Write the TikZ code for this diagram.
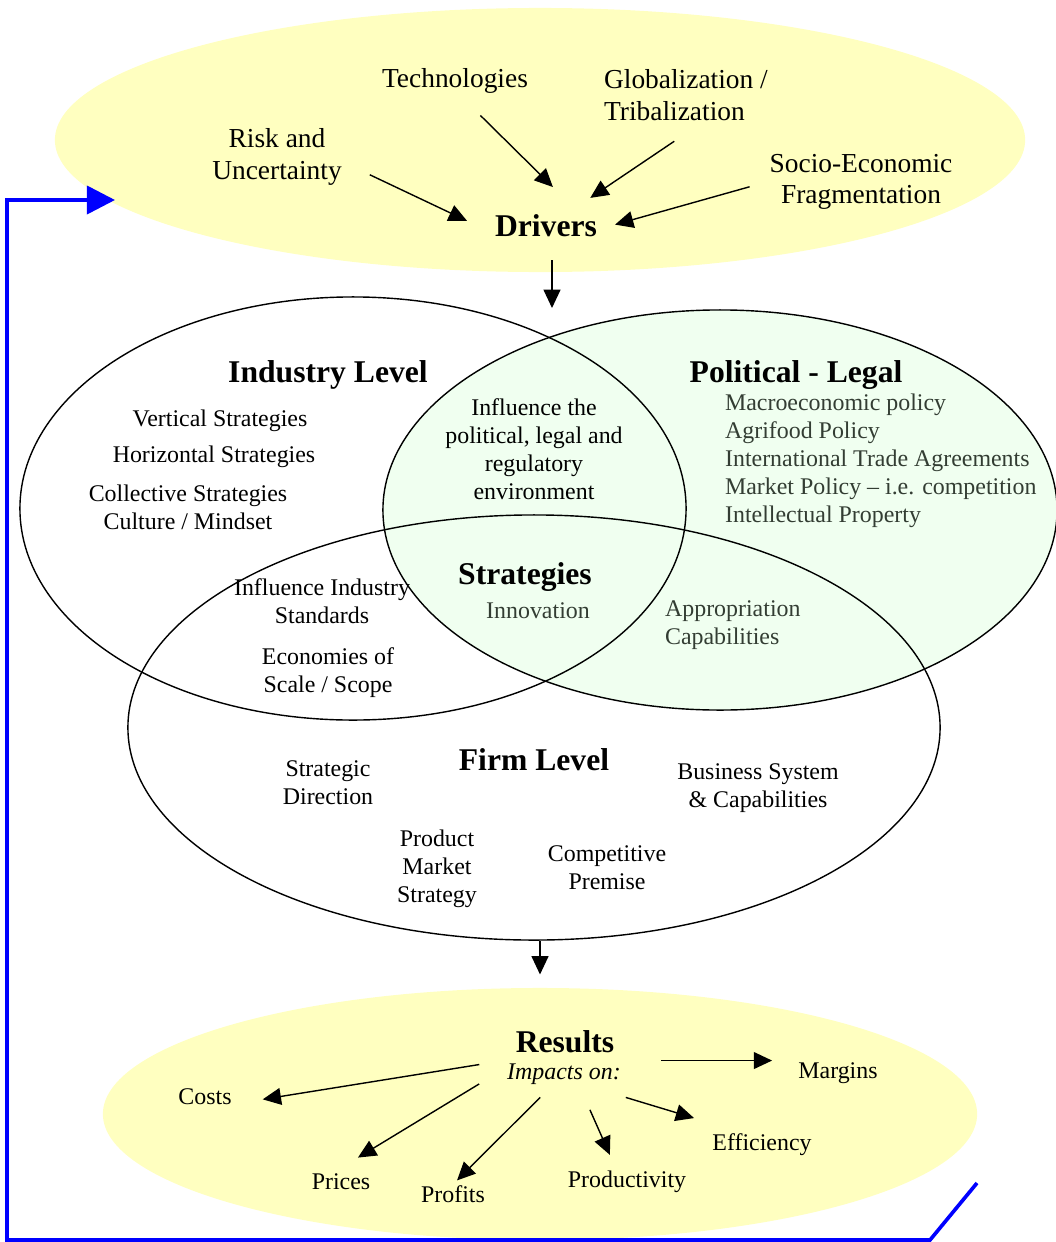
\documentclass[tikz,border=0pt]{standalone}
\usepackage{fontspec}
\setmainfont{Liberation Serif}
\usepackage{xcolor}
\usepackage{tikz}
\usetikzlibrary{positioning,shapes.geometric,arrows.meta}

\definecolor{zoneyellow}{HTML}{FFFFC0}
\definecolor{zonegreen}{HTML}{F0FFF0}
\definecolor{polgray}{HTML}{333D33}

\begin{document}
\begin{tikzpicture}[
    x=0.025cm, y=-0.025cm,
    zone/.style={ellipse, inner sep=0pt},
    lbl/.style={align=center, inner sep=2pt, font=\fontsize{17}{20}\selectfont},
    toplbl/.style={lbl, font=\fontsize{19.5}{22.5}\selectfont},
    head/.style={lbl, font=\fontsize{22.5}{26}\selectfont\bfseries},
    soft/.style={text=polgray},
    arr/.style={-{Triangle[length=13pt, width=12pt]}, line width=1pt},
    feedback/.style={draw=blue, line width=2.6pt, -{Triangle[length=20pt, width=20pt]}}
  ]
    \useasboundingbox (0,0) rectangle (1055,1242);

    % Zones
    \node[zone, fill=zoneyellow, minimum width=24.25cm, minimum height=6.6cm] (drivzone) at (540,140) {};
    \node[zone, fill=zoneyellow, minimum width=21.85cm, minimum height=6.3cm] (resultzone) at (540,1114) {};
    \node[zone, draw, fill=zonegreen, line width=1pt, minimum width=16.85cm, minimum height=10cm] (political) at (720,510) {};
    \node[zone, draw, line width=1pt, minimum width=16.65cm, minimum height=10.575cm] (industry) at (353,508.5) {};
    \node[zone, draw, line width=1pt, minimum width=20.3cm, minimum height=10.625cm] (firm) at (534,727.5) {};

    % Drivers
    \node[toplbl] (tech) at (455,81) {Technologies};
    \node[toplbl, align=left, anchor=west] (glob) at (601,95) {Globalization /\\Tribalization};
    \node[toplbl] (risk) at (277,157) {Risk and\\Uncertainty};
    \node[toplbl] (socio) at (861,182) {Socio-Economic\\Fragmentation};
    \node[head] (drivers) at (546,226) {Drivers};

    % Industry level
    \node[head] (indlevel) at (328,375) {Industry Level};
    \node[lbl] (vertical) at (220,421) {Vertical Strategies};
    \node[lbl] (horizontal) at (214,457) {Horizontal Strategies};
    \node[lbl] (collective) at (188,507) {Collective Strategies\\Culture / Mindset};
    \node[lbl] (influence) at (534,449) {Influence the\\political, legal and\\regulatory\\environment};

    % Political - legal
    \node[head] (pollevel) at (796,375) {Political - Legal};
    \node[lbl, soft, align=left, anchor=west] (pollist) at (722,461) {Macroeconomic policy\\Agrifood Policy\\International Trade Agreements\\Market Policy -- i.e. competition\\Intellectual Property};

    % Strategies
    \node[head] (strategies) at (525,577) {Strategies};
    \node[lbl, soft] (innovation) at (538,611) {Innovation};
    \node[lbl, soft, align=left, anchor=west] (approp) at (662,625) {Appropriation\\Capabilities};
    \node[lbl] (standards) at (322,601) {Influence Industry\\Standards};
    \node[lbl] (economies) at (328,673) {Economies of\\Scale / Scope};

    % Firm level
    \node[head] (firmlevel) at (534,760) {Firm Level};
    \node[lbl] (direction) at (328,783) {Strategic\\Direction};
    \node[lbl] (bizsys) at (758,788) {Business System\\\& Capabilities};
    \node[lbl] (pms) at (437,869) {Product\\Market\\Strategy};
    \node[lbl] (premise) at (607,868) {Competitive\\Premise};

    % Results
    \node[head] (results) at (565,1042) {Results};
    \node[lbl, font=\fontsize{17}{20}\selectfont\itshape] (impacts) at (564,1074) {Impacts on:};
    \node[lbl] (costs) at (205,1097) {Costs};
    \node[lbl] (margins) at (838,1073) {Margins};
    \node[lbl] (prices) at (341,1182) {Prices};
    \node[lbl] (profits) at (453,1194) {Profits};
    \node[lbl] (productivity) at (627,1182) {Productivity};
    \node[lbl] (efficiency) at (762,1145) {Efficiency};

    % Arrows into drivers
    \draw[arr, shorten <=0.69cm, shorten >=0.69cm] (risk.-5) -- (drivers.-173);
    \draw[arr, shorten <=0.67cm, shorten >=0.88cm] (tech.-68) -- (drivers.24);
    \draw[arr, shorten <=0.79cm, shorten >=0.62cm] (glob.-63) -- (drivers.31);
    \draw[arr, shorten <=0.44cm, shorten >=0.39cm] (socio.west) -- (drivers.-3.5);

    % Down the middle
    \coordinate (venntop) at (552,308);
    \draw[arr, shorten <=0.5cm] (drivers.south -| venntop) -- (venntop);
    \draw[arr, shorten >=0.33cm] (firm.south -| resultzone.north) -- (resultzone.north);

    % Impacts
    \draw[arr, shorten <=0.63cm, shorten >=0.71cm] (impacts.north west) -- (costs.-13);
    \draw[arr, shorten <=0.73cm, shorten >=0.64cm] (impacts.175.6) -- (prices.114);
    \draw[arr, shorten <=0.35cm, shorten >=0.07cm] (impacts.-136) -- (profits.80);
    \draw[arr, shorten <=0.61cm, shorten >=0.36cm] (impacts.-40.7) -- (productivity.129);
    \draw[arr, shorten <=0.86cm, shorten >=1.11cm] (impacts.-25.7) -- (efficiency.151);
    \draw[arr, shorten <=0.93cm, shorten >=0.58cm] (impacts.north east) -- (impacts.north east -| margins.west);

    % Feedback loop
    \coordinate (fbstart) at (977,1183);
    \coordinate (fbtip) at (115,200);
    \draw[feedback] (fbstart) -- (930,1240) -- (7,1240) |- (fbtip);

\end{tikzpicture}
\end{document}
